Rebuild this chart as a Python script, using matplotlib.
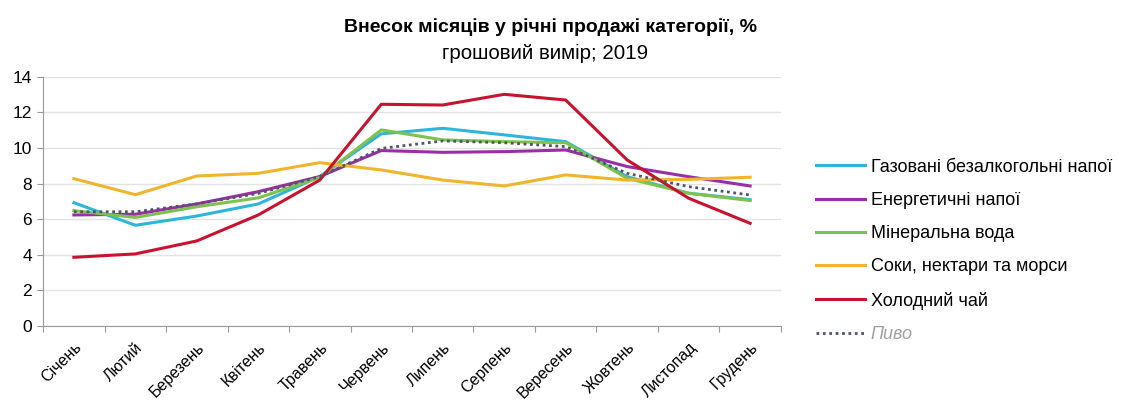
import matplotlib.pyplot as plt
from matplotlib.transforms import ScaledTranslation

# Months and monthly shares (%)
months = ['Січень', 'Лютий', 'Березень', 'Квітень', 'Травень', 'Червень',
          'Липень', 'Серпень', 'Вересень', 'Жовтень', 'Листопад', 'Грудень']

soda = [6.93, 5.66, 6.18, 6.86, 8.4, 10.8, 11.11, 10.74, 10.36, 8.39, 7.46, 7.1]
energy = [6.24, 6.28, 6.86, 7.55, 8.4, 9.86, 9.76, 9.8, 9.89, 8.96, 8.39, 7.87]
water = [6.48, 6.1, 6.7, 7.2, 8.35, 11.02, 10.46, 10.36, 10.3, 8.3, 7.46, 7.05]
juice = [8.28, 7.38, 8.43, 8.58, 9.18, 8.77, 8.2, 7.87, 8.49, 8.2, 8.24, 8.36]
tea = [3.86, 4.05, 4.78, 6.24, 8.2, 12.46, 12.42, 13.02, 12.7, 9.33, 7.18, 5.77]
beer = [6.42, 6.42, 6.86, 7.45, 8.4, 9.98, 10.4, 10.3, 10.08, 8.58, 7.83, 7.36]

plt.rcParams['font.family'] = ['Liberation Sans', 'DejaVu Sans']

fig = plt.figure(figsize=(11.35, 4.09), dpi=100)
ax = fig.add_axes([0.038, 0.203, 0.65, 0.609])

x = list(range(len(months)))
lw = 2.2
ax.plot(x, soda, color='#2db6da', lw=lw, label='Газовані безалкогольні напої')
ax.plot(x, energy, color='#9a2ea6', lw=lw, label='Енергетичні напої')
ax.plot(x, water, color='#7dc24e', lw=lw, label='Мінеральна вода')
ax.plot(x, juice, color='#f1b52b', lw=lw, label='Соки, нектари та морси')
ax.plot(x, tea, color='#c8122f', lw=lw, label='Холодний чай')
ax.plot(x, beer, color='#4f5566', lw=2, ls=(0, (1, 1.3)), label='Пиво')

ax.set_xlim(-0.5, 11.5)
ax.set_ylim(0, 14)
ax.set_yticks(range(0, 15, 2))
ax.set_xticks([i - 0.5 for i in range(13)], minor=False)
ax.set_xticklabels([])
ax.set_xticks(x, minor=True)
ax.set_xticklabels(months, minor=True, rotation=45, ha='right',
                   rotation_mode='anchor', fontsize=11.5)
shift = ScaledTranslation(5 / 72, 0, fig.dpi_scale_trans)
for lab in ax.get_xticklabels(minor=True):
    lab.set_transform(lab.get_transform() + shift)
ax.tick_params(axis='x', which='minor', length=0, pad=10)
ax.tick_params(axis='x', which='major', length=4, color='#999999')
ax.tick_params(axis='y', length=4, color='#999999', labelsize=12.5, pad=4)

ax.grid(axis='y', color='#e3e3e3', lw=1)
ax.set_axisbelow(True)
for s in ['top', 'right']:
    ax.spines[s].set_visible(False)
ax.spines['left'].set_color('#999999')
ax.spines['bottom'].set_color('#999999')

fig.text(0.485, 0.934, 'Внесок місяців у річні продажі категорії, %',
         ha='center', va='center', fontsize=14, fontweight='bold')
fig.text(0.48, 0.870, 'грошовий вимір; 2019', ha='center', va='center', fontsize=14.8)

leg = fig.legend(loc='upper left', bbox_to_anchor=(0.705, 0.652), frameon=False,
                 fontsize=13, handlelength=2.7, handletextpad=0.3, labelspacing=0.9)
leg.get_texts()[-1].set_color('#a0a0a0')
leg.get_texts()[-1].set_fontstyle('italic')

fig.savefig('out.png', dpi=100)
